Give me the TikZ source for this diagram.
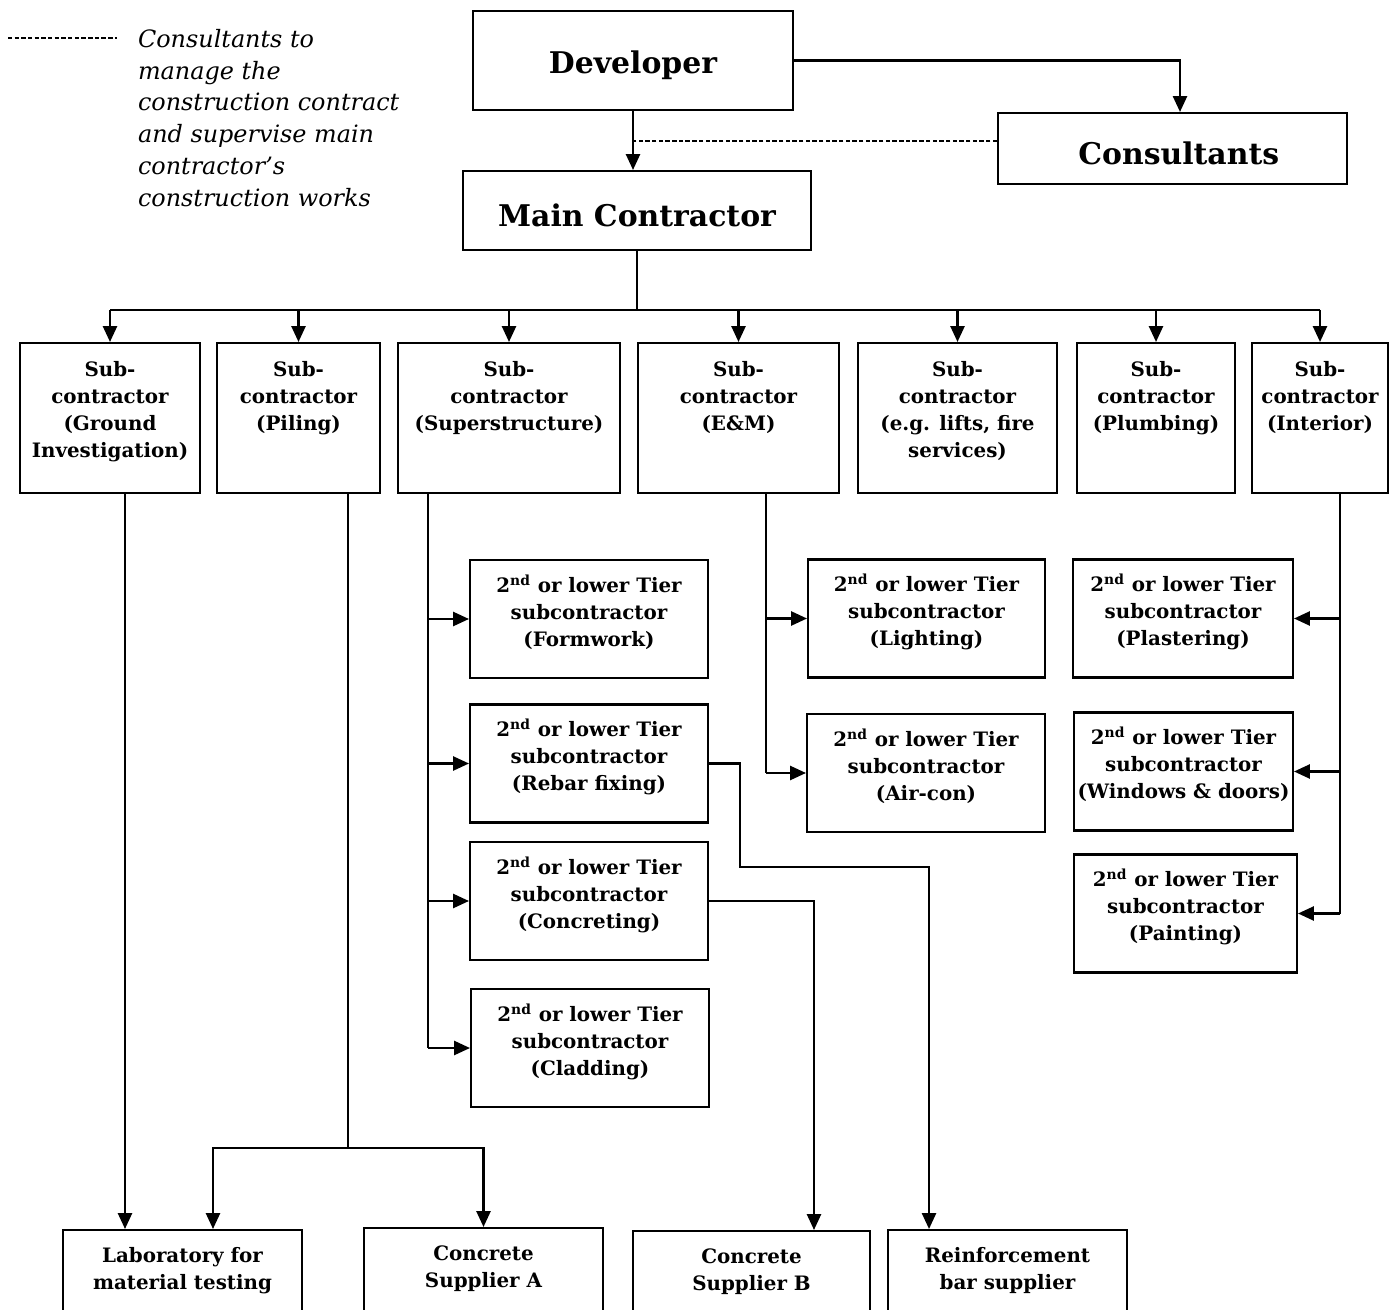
\documentclass[tikz,border=0pt]{standalone}
\usepackage{fontspec}
\setmainfont{DejaVu Serif}
\usetikzlibrary{arrows.meta, positioning}
\tikzset{
  every picture/.style={line width=1.2pt},
  box/.style={draw, inner sep=0pt, align=center, font=\bfseries\fontsize{11.3}{15.3}\selectfont},
  bigbox/.style={box, text height=0.65cm, font=\bfseries\fontsize{17}{20}\selectfont},
  tierbox/.style={box, text depth=0.34cm, minimum width=4.76cm, minimum height=2.36cm},
  subbox/.style={box, minimum height=3cm},
  supbox/.style={box, minimum width=4.78cm, minimum height=2.2cm},
  toptext/.style={anchor=north, yshift=-0.26cm, align=center, font=\bfseries\fontsize{11.3}{15.3}\selectfont},
  arrow/.style={-{Triangle[length=9pt, width=8pt]}},
  legdash/.style={line width=0.8pt, dash pattern=on 2.5pt off 1.3pt},
  legend/.style={font=\itshape\fontsize{13.6}{18.1}\selectfont, align=left, anchor=north west, inner sep=0pt},
}
\newcommand{\tier}[1]{2\textsuperscript{nd} or lower Tier\\subcontractor\\(#1)}
\begin{document}
\begin{tikzpicture}[x=0.02cm, y=-0.02cm]
  \useasboundingbox (0,0) rectangle (1395,1310);
  \clip (0,0) rectangle (1395,1310);
  % legend
  \coordinate (legs) at (8,38);
  \draw[legdash] (legs) -- ++(109,0);
  \node[legend] (leg) at (137,28) {Consultants to\\manage the\\construction contract\\and supervise main\\contractor’s\\construction works};
  % top level
  \node[bigbox, minimum width=6.4cm, minimum height=1.98cm] (dev) at (633,60.5) {Developer};
  \node[bigbox, minimum width=6.98cm, minimum height=1.42cm] (con) at (1172.5,148.5) {\hspace{0.25cm}Consultants};
  \node[bigbox, minimum width=6.96cm, minimum height=1.58cm] (mc) at (637,210.5) {Main Contractor};
  \coordinate (conp) at ([xshift=0.15cm]con.north);
  \draw[arrow] (dev.east) -| (conp);
  \draw[arrow] (dev.south) -- (dev.south |- mc.north);
  \coordinate (dash) at ([yshift=0.15cm]con.west);
  \draw[legdash] (dash) -- (dash -| dev.south);
  % sub-contractors
  \node[subbox, minimum width=3.6cm, label={[toptext]north:Sub-\\contractor\\(Ground\\Investigation)}] (sgi) at (110,418) {};
  \node[subbox, minimum width=3.26cm, label={[toptext]north:Sub-\\contractor\\(Piling)}] (spi) at (298.5,418) {};
  \node[subbox, minimum width=4.44cm, label={[toptext]north:Sub-\\contractor\\(Superstructure)}] (sss) at (509,418) {};
  \node[subbox, minimum width=4.02cm, label={[toptext]north:Sub-\\contractor\\(E\&M)}] (sem) at (738.5,418) {};
  \node[subbox, minimum width=3.98cm, label={[toptext]north:Sub-\\contractor\\(e.g. lifts, fire\\services)}] (sli) at (957.5,418) {};
  \node[subbox, minimum width=3.16cm, label={[toptext]north:Sub-\\contractor\\(Plumbing)}] (spl) at (1156,418) {};
  \node[subbox, minimum width=2.72cm, label={[toptext]north:Sub-\\contractor\\(Interior)}] (sin) at (1320,418) {};
  \coordinate (bus) at (637,310);
  \draw (mc.south) -- (bus);
  \draw (sgi.north |- bus) -- (sin.north |- bus);
  \foreach \n in {sgi,spi,sss,sem,sli,spl,sin}
    \draw[arrow] (\n.north |- bus) -- (\n.north);
  % 2nd tier
  \node[tierbox] (fw) at (589,619) {\tier{Formwork}};
  \node[tierbox] (rb) at (589,763.5) {\tier{Rebar fixing}};
  \node[tierbox] (cc) at (589,901) {\tier{Concreting}};
  \node[tierbox] (cl) at (590,1048) {\tier{Cladding}};
  \node[tierbox, minimum width=4.74cm] (lt) at (926.5,618.5) {\tier{Lighting}};
  \node[tierbox, minimum width=4.76cm] (ac) at (926,773) {\tier{Air-con}};
  \node[tierbox, minimum width=4.4cm] (pl) at (1183,618.5) {\tier{Plastering}};
  \node[tierbox, minimum width=4.38cm] (wd) at (1183.5,771.5) {\tier{Windows \& doors}};
  \node[tierbox, minimum width=4.46cm] (pt) at (1185.5,913.5) {\tier{Painting}};
  \coordinate (ssx) at (428,493);
  \draw (ssx) -- (ssx |- cl.west);
  \foreach \n in {fw,rb,cc,cl}
    \draw[arrow] (ssx |- \n.west) -- (\n.west);
  \coordinate (emx) at (766,493);
  \draw (emx) -- (emx |- ac.west);
  \foreach \n in {lt,ac}
    \draw[arrow] (emx |- \n.west) -- (\n.west);
  \coordinate (inx) at (1340,493);
  \draw (inx) -- (inx |- pt.east);
  \foreach \n in {pl,wd,pt}
    \draw[arrow] (inx |- \n.east) -- (\n.east);
  % suppliers
  \node[supbox, label={[toptext, yshift=0.02cm]north:Laboratory for\\material testing}] (lab) at (182.5,1285) {};
  \node[supbox, label={[toptext, yshift=0.02cm]north:Concrete\\Supplier A}] (ca) at (483.5,1283) {};
  \node[supbox, minimum width=4.74cm, label={[toptext, yshift=0.02cm]north:Concrete\\Supplier B}] (cb) at (751.5,1286) {};
  \node[supbox, label={[toptext, yshift=0.02cm]north:Reinforcement\\bar supplier}] (rf) at (1007.5,1285) {};
  \coordinate (gix) at (125,493);
  \draw[arrow] (gix) -- (gix |- lab.north);
  \coordinate (pix) at (348,493);
  \coordinate (pibus) at (348,1148);
  \coordinate (labp) at ([xshift=0.61cm]lab.north);
  \draw (pix) -- (pibus);
  \draw[arrow] (pibus) -| (labp);
  \draw[arrow] (pibus) -| (ca.north);
  \coordinate (rbx) at (740,867);
  \coordinate (rfp) at ([xshift=-1.57cm]rf.north);
  \draw[arrow] (rb.east) -| (rbx) -| (rfp);
  \coordinate (cbp) at ([xshift=1.25cm]cb.north);
  \draw[arrow] (cc.east) -| (cbp);
\end{tikzpicture}
\end{document}
